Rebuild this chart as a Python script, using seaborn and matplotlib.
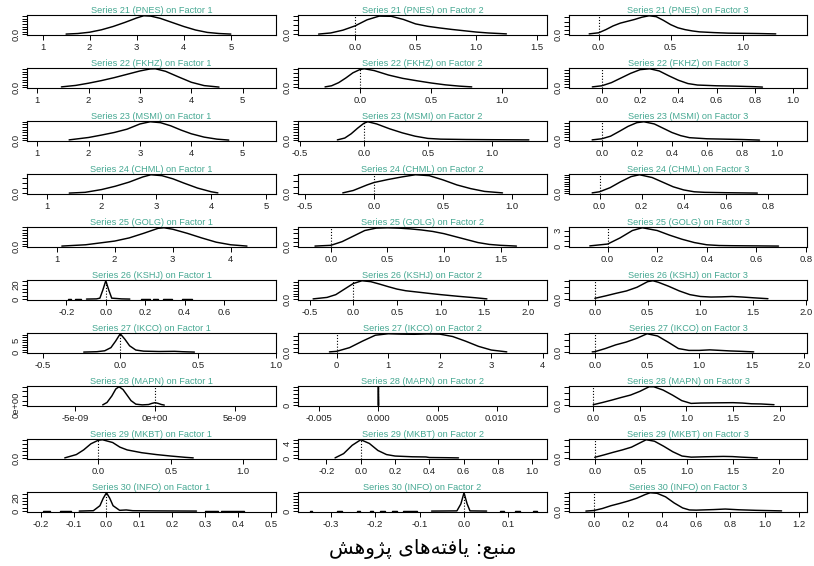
import numpy as np
import pandas as pd
import matplotlib
matplotlib.use("Agg")
import matplotlib.pyplot as plt
import seaborn as sns

# ---------------- data ----------------
series_ids = [21, 22, 23, 24, 25, 26, 27, 28, 29, 30]
tickers = ["PNES", "FKHZ", "MSMI", "CHML", "GOLG", "KSHJ", "IKCO", "MAPN", "MKBT", "INFO"]
factors = [1, 2, 3]

# density curves (relative height, 1 = peak); None marks a gap in the line
s21_f1_x = [1.5, 1.75, 2.0, 2.25, 2.5, 2.75, 3.0, 3.15, 3.3, 3.5, 3.75, 4.0, 4.25, 4.5, 4.75, 5.0]
s21_f1_y = [0.01, 0.04, 0.11, 0.24, 0.42, 0.64, 0.88, 1.0, 0.98, 0.86, 0.64, 0.42, 0.23, 0.1, 0.04, 0.01]
s21_f2_x = [-0.30, -0.2, -0.1, 0.0, 0.1, 0.2, 0.3, 0.4, 0.5, 0.6, 0.7, 0.8, 0.9, 1.0, 1.1, 1.25]
s21_f2_y = [0.01, 0.07, 0.22, 0.45, 0.78, 0.98, 0.97, 0.80, 0.56, 0.43, 0.34, 0.26, 0.19, 0.12, 0.07, 0.02]
s21_f3_x = [-0.066, 0.0, 0.05, 0.1, 0.15, 0.2, 0.25, 0.3, 0.35, 0.4, 0.45, 0.5, 0.55, 0.6, 0.65, 0.7, 0.8, 0.9, 1.0, 1.1, 1.23]
s21_f3_y = [0.02, 0.08, 0.25, 0.45, 0.6, 0.7, 0.8, 0.92, 1.0, 0.95, 0.75, 0.52, 0.35, 0.25, 0.18, 0.13, 0.09, 0.06, 0.05, 0.04, 0.02]

s22_f1_x = [1.47, 1.75, 2.0, 2.25, 2.5, 2.75, 3.0, 3.2, 3.3, 3.5, 3.75, 4.0, 4.25, 4.54]
s22_f1_y = [0.02, 0.1, 0.22, 0.36, 0.52, 0.70, 0.88, 0.99, 1.0, 0.86, 0.56, 0.27, 0.09, 0.01]
s22_f2_x = [-0.246, -0.2, -0.15, -0.1, -0.05, 0.0, 0.03, 0.1, 0.2, 0.3, 0.4, 0.5, 0.6, 0.7, 0.785]
s22_f2_y = [0.02, 0.08, 0.25, 0.5, 0.78, 0.96, 1.0, 0.9, 0.66, 0.48, 0.35, 0.23, 0.13, 0.06, 0.02]
s22_f3_x = [-0.05, 0.0, 0.05, 0.1, 0.15, 0.2, 0.25, 0.3, 0.35, 0.4, 0.45, 0.5, 0.6, 0.7, 0.8, 0.84]
s22_f3_y = [0.02, 0.08, 0.25, 0.5, 0.75, 0.95, 1.0, 0.88, 0.62, 0.38, 0.2, 0.12, 0.08, 0.06, 0.03, 0.01]

s23_f1_x = [1.62, 2.0, 2.25, 2.5, 2.75, 3.0, 3.2, 3.4, 3.6, 3.8, 4.0, 4.25, 4.5, 4.73]
s23_f1_y = [0.02, 0.15, 0.28, 0.42, 0.6, 0.88, 1.0, 0.95, 0.78, 0.55, 0.35, 0.17, 0.06, 0.01]
s23_f2_x = [-0.208, -0.15, -0.1, -0.05, 0.0, 0.03, 0.1, 0.2, 0.3, 0.4, 0.5, 0.6, 0.8, 1.0, 1.29]
s23_f2_y = [0.02, 0.12, 0.35, 0.65, 0.92, 1.0, 0.88, 0.62, 0.40, 0.22, 0.10, 0.06, 0.04, 0.03, 0.02]
s23_f3_x = [-0.055, 0.0, 0.05, 0.1, 0.15, 0.2, 0.24, 0.3, 0.35, 0.4, 0.45, 0.5, 0.6, 0.7, 0.8, 0.9]
s23_f3_y = [0.02, 0.08, 0.22, 0.48, 0.75, 0.95, 1.0, 0.88, 0.65, 0.42, 0.25, 0.14, 0.08, 0.06, 0.04, 0.01]

s24_f1_x = [1.41, 1.7, 2.0, 2.25, 2.5, 2.75, 2.9, 3.1, 3.3, 3.5, 3.75, 4.0, 4.12]
s24_f1_y = [0.01, 0.05, 0.2, 0.38, 0.6, 0.88, 1.0, 0.95, 0.78, 0.55, 0.28, 0.08, 0.02]
s24_f2_x = [-0.226, -0.15, -0.1, -0.05, 0.0, 0.1, 0.2, 0.3, 0.4, 0.5, 0.6, 0.7, 0.8, 0.93]
s24_f2_y = [0.02, 0.15, 0.3, 0.45, 0.58, 0.74, 0.88, 1.0, 0.95, 0.72, 0.45, 0.25, 0.1, 0.02]
s24_f3_x = [-0.035, 0.0, 0.05, 0.1, 0.15, 0.19, 0.25, 0.3, 0.35, 0.4, 0.45, 0.5, 0.6, 0.75]
s24_f3_y = [0.02, 0.08, 0.3, 0.62, 0.9, 1.0, 0.85, 0.6, 0.35, 0.18, 0.08, 0.05, 0.03, 0.01]

s25_f1_x = [1.09, 1.5, 2.0, 2.25, 2.5, 2.75, 2.85, 3.0, 3.25, 3.5, 3.75, 4.0, 4.28]
s25_f1_y = [0.01, 0.08, 0.28, 0.45, 0.7, 0.97, 1.0, 0.92, 0.7, 0.45, 0.22, 0.08, 0.01]
s25_f2_x = [-0.14, 0.0, 0.1, 0.2, 0.3, 0.4, 0.5, 0.6, 0.7, 0.8, 0.9, 1.0, 1.1, 1.2, 1.3, 1.4, 1.5, 1.64]
s25_f2_y = [0.01, 0.05, 0.25, 0.55, 0.85, 0.98, 1.0, 0.98, 0.94, 0.88, 0.8, 0.68, 0.52, 0.36, 0.2, 0.1, 0.05, 0.01]
s25_f3_x = [-0.072, 0.0, 0.05, 0.1, 0.14, 0.2, 0.25, 0.3, 0.35, 0.4, 0.45, 0.5, 0.6, 0.69]
s25_f3_y = [0.02, 0.12, 0.45, 0.85, 1.0, 0.85, 0.6, 0.38, 0.2, 0.08, 0.04, 0.03, 0.02, 0.01]

s26_f1_x = [-0.192, -0.175, None, -0.158, -0.124, None, -0.098, -0.047, -0.03, -0.015, 0.0, 0.015, 0.03, 0.08, 0.122,
            None, 0.181, 0.224, None, 0.241, 0.266, None, 0.291, 0.334, None, 0.385, 0.436]
s26_f1_y = [0.01, 0.01, None, 0.01, 0.01, None, 0.01, 0.02, 0.06, 0.5, 1.0, 0.5, 0.06, 0.02, 0.01,
            None, 0.01, 0.01, None, 0.01, 0.01, None, 0.01, 0.01, None, 0.01, 0.01]
s26_f2_x = [-0.46, -0.3, -0.2, -0.1, 0.0, 0.1, 0.2, 0.3, 0.4, 0.5, 0.6, 0.75, 0.9, 1.0, 1.2, 1.4, 1.53]
s26_f2_y = [0.02, 0.1, 0.25, 0.55, 0.85, 1.0, 0.95, 0.82, 0.68, 0.55, 0.46, 0.38, 0.3, 0.25, 0.16, 0.08, 0.02]
s26_f3_x = [0.0, 0.1, 0.2, 0.3, 0.4, 0.5, 0.55, 0.6, 0.7, 0.8, 0.9, 1.0, 1.1, 1.2, 1.3, 1.4, 1.5, 1.64]
s26_f3_y = [0.05, 0.18, 0.32, 0.45, 0.65, 0.95, 1.0, 0.92, 0.7, 0.45, 0.25, 0.15, 0.12, 0.13, 0.15, 0.12, 0.08, 0.03]

s27_f1_x = [-0.235, -0.15, -0.1, -0.06, -0.03, 0.0, 0.03, 0.06, 0.1, 0.15, 0.25, 0.35, 0.4, 0.477]
s27_f1_y = [0.01, 0.03, 0.08, 0.25, 0.6, 1.0, 0.7, 0.35, 0.12, 0.06, 0.04, 0.05, 0.03, 0.01]
s27_f2_x = [-0.14, 0.0, 0.25, 0.5, 0.75, 1.0, 1.25, 1.5, 1.75, 2.0, 2.25, 2.5, 2.75, 3.0, 3.3]
s27_f2_y = [0.02, 0.05, 0.25, 0.6, 0.92, 1.0, 0.98, 0.97, 0.99, 0.98, 0.85, 0.6, 0.32, 0.12, 0.02]
s27_f3_x = [-0.025, 0.0, 0.1, 0.2, 0.3, 0.4, 0.5, 0.6, 0.7, 0.8, 0.9, 1.0, 1.1, 1.2, 1.3, 1.4, 1.52]
s27_f3_y = [0.02, 0.03, 0.2, 0.4, 0.55, 0.75, 1.0, 0.88, 0.55, 0.2, 0.1, 0.1, 0.13, 0.1, 0.07, 0.05, 0.02]

s28_f1_x = [-3.27e-9, -3.0e-9, -2.7e-9, -2.45e-9, -2.25e-9, -2.0e-9, -1.75e-9, -1.5e-9, -1.2e-9, -0.8e-9,
            -0.4e-9, -0.2e-9, 0.0, 0.2e-9, 0.4e-9, 0.58e-9]
s28_f1_y = [0.02, 0.15, 0.5, 0.88, 1.0, 0.85, 0.55, 0.25, 0.06, 0.02, 0.04, 0.1, 0.14, 0.1, 0.04, 0.01]
s28_f2_x = [-0.00003, 0.0, 0.00003]
s28_f2_y = [0.0, 1.0, 0.0]
s28_f3_x = [0.0, 0.1, 0.2, 0.3, 0.4, 0.5, 0.6, 0.65, 0.75, 0.85, 0.95, 1.05, 1.15, 1.3, 1.5, 1.6, 1.7, 1.8, 1.94]
s28_f3_y = [0.03, 0.15, 0.28, 0.42, 0.55, 0.75, 1.0, 1.0, 0.82, 0.55, 0.25, 0.1, 0.12, 0.13, 0.14, 0.12, 0.08, 0.07, 0.03]

s29_f1_x = [-0.23, -0.15, -0.1, -0.05, 0.0, 0.03, 0.1, 0.15, 0.2, 0.3, 0.4, 0.5, 0.6, 0.655]
s29_f1_y = [0.02, 0.2, 0.45, 0.78, 0.97, 1.0, 0.85, 0.6, 0.45, 0.3, 0.2, 0.12, 0.05, 0.02]
s29_f2_x = [-0.15, -0.1, -0.05, 0.0, 0.05, 0.1, 0.15, 0.2, 0.3, 0.38, 0.4, 0.5, 0.57]
s29_f2_y = [0.02, 0.25, 0.7, 1.0, 0.8, 0.42, 0.2, 0.12, 0.08, 0.07, 0.04, 0.03, 0.02]
s29_f3_x = [0.0, 0.1, 0.2, 0.3, 0.4, 0.5, 0.56, 0.65, 0.75, 0.85, 0.95, 1.05, 1.2, 1.4, 1.5, 1.6, 1.77]
s29_f3_y = [0.05, 0.18, 0.32, 0.45, 0.6, 0.85, 1.0, 0.92, 0.65, 0.35, 0.12, 0.06, 0.08, 0.1, 0.09, 0.06, 0.02]

s30_f1_x = [-0.193, -0.173, None, -0.142, -0.107, None, -0.083, -0.04, -0.02, -0.01, 0.0, 0.01, 0.02, 0.04, 0.06,
            0.08, 0.15, 0.274, None, 0.30, 0.34, None, 0.35, 0.42]
s30_f1_y = [0.01, 0.01, None, 0.01, 0.01, None, 0.01, 0.03, 0.3, 0.7, 1.0, 0.7, 0.3, 0.05, 0.07,
            0.03, 0.02, 0.01, None, 0.01, 0.01, None, 0.01, 0.01]
s30_f2_x = [-0.348, -0.343, None, -0.287, -0.275, None, -0.240, -0.234, None, -0.212, -0.204, None, -0.189, -0.178,
            None, -0.163, -0.152, None, -0.137, -0.107, None, -0.073, -0.016, -0.007, 0.0, 0.007, 0.0135, 0.051,
            None, 0.081, 0.089, None, 0.115, 0.126, None, 0.156, 0.164]
s30_f2_y = [0.01, 0.01, None, 0.01, 0.01, None, 0.01, 0.01, None, 0.01, 0.01, None, 0.01, 0.01,
            None, 0.01, 0.01, None, 0.01, 0.01, None, 0.01, 0.02, 0.4, 1.0, 0.4, 0.02, 0.01,
            None, 0.01, 0.01, None, 0.01, 0.01, None, 0.01, 0.01]
s30_f3_x = [-0.047, 0.0, 0.05, 0.1, 0.15, 0.2, 0.25, 0.3, 0.33, 0.37, 0.42, 0.47, 0.52, 0.56, 0.6, 0.7, 0.77, 0.85, 0.95, 1.1]
s30_f3_y = [0.01, 0.04, 0.15, 0.3, 0.42, 0.55, 0.7, 0.9, 1.0, 0.97, 0.78, 0.45, 0.18, 0.07, 0.06, 0.09, 0.12, 0.08, 0.05, 0.02]

# x-axis ranges (per series row, factor 1..3)
xlim_f1 = [(0.67, 5.96), (0.80, 5.65), (0.80, 5.65), (0.64, 5.18), (0.49, 4.78),
           (-0.40, 0.864), (-0.60, 1.002), (-8.0e-9, 7.56e-9), (-0.49, 1.225), (-0.242, 0.516)]
xlim_f2 = [(-0.47, 1.585), (-0.436, 1.314), (-0.516, 1.432), (-0.55, 1.252), (-0.29, 1.91),
           (-0.633, 2.218), (-0.75, 4.08), (-0.0068, 0.01426), (-0.366, 1.086), (-0.374, 0.187)]
xlim_f3 = [(-0.206, 1.447), (-0.172, 1.073), (-0.187, 1.171), (-0.145, 0.986), (-0.156, 0.805),
           (-0.245, 2.01), (-0.247, 2.03), (-0.26, 2.294), (-0.28, 2.31), (-0.146, 1.249)]

# x tick labels
xt_f1 = [["1", "2", "3", "4", "5"], ["1", "2", "3", "4", "5"], ["1", "2", "3", "4", "5"],
         ["1", "2", "3", "4", "5"], ["1", "2", "3", "4"], ["-0.2", "0.0", "0.2", "0.4", "0.6"],
         ["-0.5", "0.0", "0.5", "1.0"], ["-5e-09", "0e+00", "5e-09"], ["0.0", "0.5", "1.0"],
         ["-0.2", "-0.1", "0.0", "0.1", "0.2", "0.3", "0.4", "0.5"]]
xt_f2 = [["0.0", "0.5", "1.0", "1.5"], ["0.0", "0.5", "1.0"], ["-0.5", "0.0", "0.5", "1.0"],
         ["-0.5", "0.0", "0.5", "1.0"], ["0.0", "0.5", "1.0", "1.5"],
         ["-0.5", "0.0", "0.5", "1.0", "1.5", "2.0"], ["0", "1", "2", "3", "4"],
         ["-0.005", "0.000", "0.005", "0.010"], ["-0.2", "0.0", "0.2", "0.4", "0.6", "0.8", "1.0"],
         ["-0.3", "-0.2", "-0.1", "0.0", "0.1"]]
xt_f3 = [["0.0", "0.5", "1.0"], ["0.0", "0.2", "0.4", "0.6", "0.8", "1.0"],
         ["0.0", "0.2", "0.4", "0.6", "0.8", "1.0"], ["0.0", "0.2", "0.4", "0.6", "0.8"],
         ["0.0", "0.2", "0.4", "0.6", "0.8"], ["0.0", "0.5", "1.0", "1.5", "2.0"],
         ["0.0", "0.5", "1.0", "1.5", "2.0"], ["0.0", "0.5", "1.0", "1.5", "2.0"],
         ["0.0", "0.5", "1.0", "1.5", "2.0"], ["0.0", "0.2", "0.4", "0.6", "0.8", "1.0", "1.2"]]

# density scale: peak height, y tick step, second labelled y tick
ypeak_f1 = [0.72, 0.72, 0.70, 0.75, 0.68, 26, 7.5, 4e8, 2.6, 27]
ypeak_f2 = [2.0, 2.6, 3.4, 1.5, 0.85, 1.3, 0.45, 5000, 5.0, 60]
ypeak_f3 = [2.2, 3.2, 3.2, 4.0, 3.6, 1.2, 1.2, 1.2, 1.2, 2.6]
ystep_f1 = [0.1, 0.1, 0.1, 0.2, 0.1, 5, 1, 1e8, 0.5, 5]
ystep_f2 = [0.5, 0.5, 0.5, 0.5, 0.2, 0.2, 0.1, 1000, 1, 10]
ystep_f3 = [0.5, 0.5, 0.5, 0.5, 1, 0.4, 0.4, 0.4, 0.4, 0.5]
ylab2_f1 = [None, None, None, None, None, 20, 5, None, None, 20]
ylab2_f2 = [None, None, None, None, None, None, None, None, 4, None]
ylab2_f3 = [None, None, None, None, 3, None, None, None, None, None]

caption = "\uFEB6\uFEEB\uFEED\uFB8B\uFB58 \uFEEF\uFE8E\uFEEB\uFEEA\uFE98\uFED3\uFE8E\uFEF3 :\uFECA\uFE92\uFEE8\uFEE3"

# ---------------- drawing ----------------
sns.set_theme(style="ticks")
plt.rcParams['font.family'] = ['Liberation Sans', 'DejaVu Sans']

TEAL = "#45a892"
W, H = 814, 566
fig = plt.figure(figsize=(W / 100, H / 100), dpi=100)
fig.patch.set_facecolor("white")

col_left = [27, 298, 569]
col_width = [249, 249, 238]
box_h = 20

curves = {}
for s in series_ids:
    for f in factors:
        curves[(s, f)] = (globals()[f"s{s}_f{f}_x"], globals()[f"s{s}_f{f}_y"])

xlims = [xlim_f1, xlim_f2, xlim_f3]
xts = [xt_f1, xt_f2, xt_f3]
ypeaks = [ypeak_f1, ypeak_f2, ypeak_f3]
ysteps = [ystep_f1, ystep_f2, ystep_f3]
ylab2s = [ylab2_f1, ylab2_f2, ylab2_f3]


def to_frame(xs, ys, peak):
    rows, seg = [], 0
    for xv, yv in zip(xs, ys):
        if xv is None:
            seg += 1
            continue
        rows.append((xv, yv * peak, seg))
    return pd.DataFrame(rows, columns=["x", "y", "seg"])


for r, (s, tk) in enumerate(zip(series_ids, tickers)):
    top = 15 + 53 * r
    for c, f in enumerate(factors):
        ax = fig.add_axes([col_left[c] / W, 1 - (top + box_h) / H, col_width[c] / W, box_h / H])
        ax.set_facecolor("white")
        peak = ypeaks[c][r]
        step = ysteps[c][r]
        xs, ys = curves[(s, f)]
        df = to_frame(xs, ys, peak)
        sns.lineplot(data=df, x="x", y="y", units="seg", estimator=None, sort=False,
                     color="black", linewidth=1.05, ax=ax, legend=False)
        ax.axvline(0, color="black", linewidth=0.8, linestyle=(0, (1, 1.6)))
        ax.set_xlim(*xlims[c][r])
        ax.set_ylim(-0.04 * peak, 1.04 * peak)
        labs = xts[c][r]
        ax.set_xticks([float(v) for v in labs])
        ax.set_xticklabels(labs)
        yt = np.arange(0, 1.04 * peak * 1.0001, step)
        if step >= 1e5:
            zero = "0e+00"
        elif step >= 1:
            zero = "0"
        else:
            zero = "0.0"
        ylabs = []
        for v in yt:
            if abs(v) < 1e-12:
                ylabs.append(zero)
            elif ylab2s[c][r] is not None and abs(v - ylab2s[c][r]) < 1e-9:
                ylabs.append(f"{ylab2s[c][r]:g}")
            else:
                ylabs.append("")
        ax.set_yticks(yt)
        ax.set_yticklabels(ylabs)
        ax.set_xlabel("")
        ax.set_ylabel("")
        ax.set_title(f"Series {s} ({tk}) on Factor {f}", fontsize=6.6, color=TEAL, pad=1.2)
        ax.tick_params(axis="x", length=3.6, width=0.7, pad=2.0, labelsize=6.8,
                       direction="out", color="black", labelcolor="#222222")
        ax.tick_params(axis="y", length=3.6, width=0.7, pad=1.0, labelsize=6.8,
                       direction="out", color="black", labelcolor="#222222", labelrotation=90)
        for lab in ax.get_yticklabels():
            lab.set_va("center")
        for sp in ax.spines.values():
            sp.set_visible(True)
            sp.set_color("black")
            sp.set_linewidth(0.8)

fig.text(423 / W, 1 - 549 / H, caption, ha="center", va="center", fontsize=14.5,
         family=["DejaVu Sans"], color="black")

fig.savefig("out.png", dpi=100)
